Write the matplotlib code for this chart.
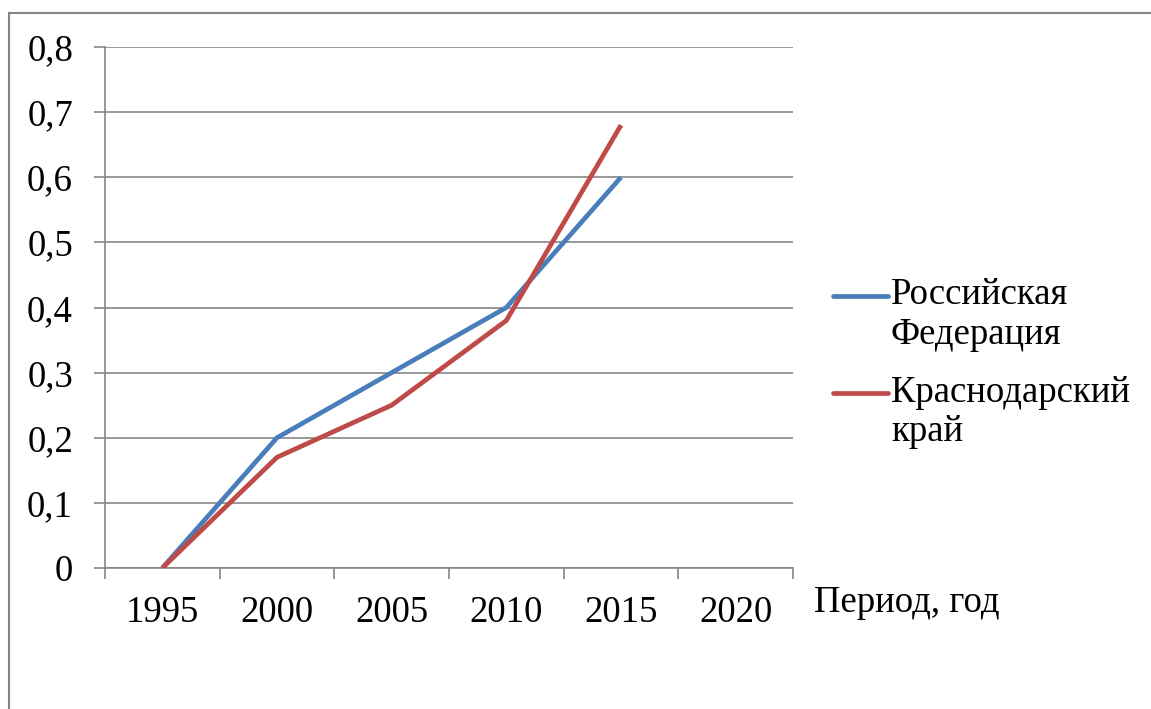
import matplotlib
matplotlib.use("Agg")
import matplotlib.pyplot as plt
from matplotlib.lines import Line2D

years = ["1995", "2000", "2005", "2010", "2015", "2020"]
rf_values = [0.0, 0.2, 0.3, 0.4, 0.6]
kk_values = [0.0, 0.17, 0.25, 0.38, 0.68]
y_ticks = [0, 0.1, 0.2, 0.3, 0.4, 0.5, 0.6, 0.7, 0.8]
y_labels = ["0", "0,1", "0,2", "0,3", "0,4", "0,5", "0,6", "0,7", "0,8"]
series_names = ["Российская\nФедерация", "Краснодарский\nкрай"]

plt.rcParams["font.family"] = ["Liberation Serif", "DejaVu Serif"]

W, H = 1151, 709
fig = plt.figure(figsize=(W / 100, H / 100), dpi=100)
grey = "#868686"
blue = "#4A7EBB"
red = "#BE4B48"

def fx(px):
    return px / W

def fy(py):
    return (H - py) / H

ax = fig.add_axes([fx(105), fy(568), fx(793) - fx(105), fy(47) - fy(568)])

xs = list(range(len(years)))
ax.plot(xs[:len(rf_values)], rf_values, color=blue, lw=3.4, solid_capstyle="butt", zorder=3)
ax.plot(xs[:len(kk_values)], kk_values, color=red, lw=3.4, solid_capstyle="butt", zorder=4)

ax.set_xlim(-0.5, len(years) - 0.5)
ax.set_ylim(0, 0.8)

ax.set_xticks([i - 0.5 for i in range(len(years) + 1)])
ax.set_xticklabels([])
ax.set_xticks(xs, minor=True)
ax.set_xticklabels(years, minor=True, fontsize=26.5)
ax.tick_params(axis="x", which="major", length=8, width=1.2, color=grey, direction="out")
ax.tick_params(axis="x", which="minor", length=0, pad=20)

ax.set_yticks(y_ticks)
ax.set_yticklabels(y_labels, fontsize=26.5)
ax.tick_params(axis="y", length=8, width=1.2, color=grey, direction="out", pad=15)

ax.yaxis.grid(True, color=grey, lw=1.2)
ax.set_axisbelow(True)
for s in ["top", "right"]:
    ax.spines[s].set_visible(False)
for s in ["left", "bottom"]:
    ax.spines[s].set_color(grey)
    ax.spines[s].set_linewidth(1.2)

# outer chart frame
fig.add_artist(Line2D([fx(9), fx(9)], [fy(13), 0], transform=fig.transFigure, color=grey, lw=1.5))
fig.add_artist(Line2D([fx(9), 1], [fy(13), fy(13)], transform=fig.transFigure, color=grey, lw=1.5))

# legend
for name, color, ypx in [(series_names[0], blue, 296), (series_names[1], red, 393)]:
    fig.add_artist(Line2D([fx(833), fx(888)], [fy(ypx), fy(ypx)], transform=fig.transFigure,
                          color=color, lw=3.4, solid_capstyle="round"))
    fig.text(fx(891), fy(ypx - 18), name, fontsize=26.5, va="top", ha="left", linespacing=1.2)

fig.text(fx(814), fy(612), "Период, год", fontsize=26.5, va="baseline", ha="left")

fig.savefig("out.png", dpi=100)
